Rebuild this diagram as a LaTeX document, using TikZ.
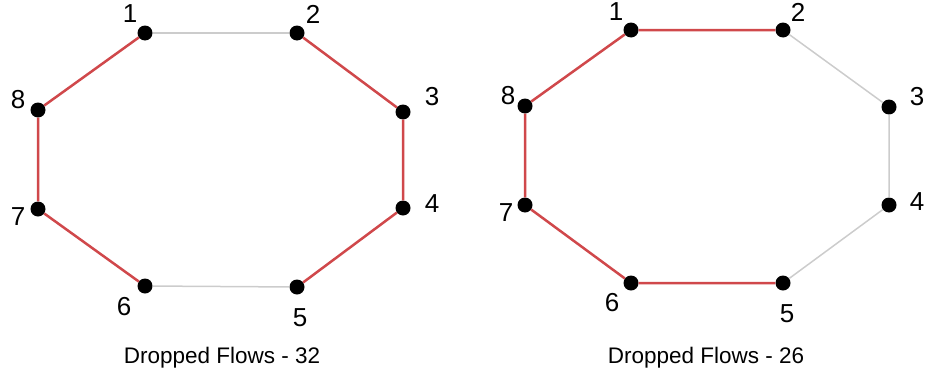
\documentclass[tikz,border=0pt]{standalone}
\usepackage{fontspec}
\setmainfont{Liberation Sans}
\definecolor{flowred}{HTML}{D0484B}
\definecolor{linkgray}{HTML}{CCCCCC}

\begin{document}
\begin{tikzpicture}[x=1pt,y=-1pt,
  router/.style={circle,fill=black,inner sep=0pt,minimum size=15pt},
  num/.style={font=\fontsize{26}{30}\selectfont},
  dropped/.style={flowred,line width=2.5pt},
  idle/.style={linkgray,line width=1.5pt},
  caption/.style={font=\fontsize{22.5}{26}\selectfont}]
  \useasboundingbox (0,0) rectangle (929,383);
  % left ring
  \foreach \i/\x/\y/\dx/\dy in {1/145/33/-15/-19, 2/297/33/16/-19, 3/403/112/29/-15,
      4/403/208/29/-4, 5/297/287/3/31, 6/145/286/-21/21, 7/38/209/-20/8, 8/38/110/-20/-10}{
    \node[router] (L\i) at (\x,\y) {};
    \node[num] (Lnum\i) at (\x+\dx,\y+\dy) {\i};
  }
  % right ring
  \foreach \i/\x/\y/\dx/\dy in {1/631/30/-15/-18, 2/783/30/15/-18, 3/889/107/28/-10,
      4/889/205/28/-3, 5/783/283/4/31, 6/631/283/-19/20, 7/525/205/-19/8, 8/525/106/-17/-10}{
    \node[router] (R\i) at (\x,\y) {};
    \node[num] (Rnum\i) at (\x+\dx,\y+\dy) {\i};
  }
  \draw[idle] (L1) -- (L2);
  \draw[idle] (L5) -- (L6);
  \draw[dropped] (L2) -- (L3) -- (L4) -- (L5);
  \draw[dropped] (L6) -- (L7) -- (L8) -- (L1);
  \draw[idle] (R2) -- (R3) -- (R4) -- (R5);
  \draw[dropped] (R5) -- (R6) -- (R7) -- (R8) -- (R1) -- (R2);
  \node[caption] (Lcap) at (222,358) {Dropped Flows - 32};
  \node[caption] (Rcap) at (706,358) {Dropped Flows - 26};
\end{tikzpicture}
\end{document}
